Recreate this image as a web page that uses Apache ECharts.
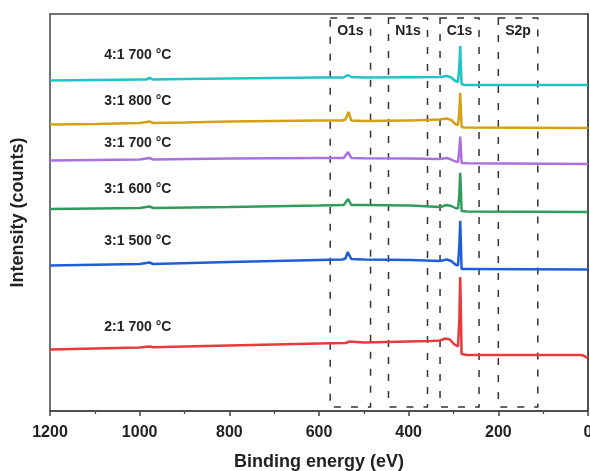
<!DOCTYPE html>
<html>
<head>
<meta charset="utf-8">
<script src="https://cdn.jsdelivr.net/npm/echarts@6/dist/echarts.min.js"></script>
<style>html,body{margin:0;padding:0;background:#fff;}#c{width:590px;height:471px;}</style>
</head>
<body>
<div id="c"></div>
<script>
// Sample names (legend labels drawn beside each trace)
const sampleNames = ['4:1 700 °C', '3:1 800 °C', '3:1 700 °C', '3:1 600 °C', '3:1 500 °C', '2:1 700 °C'];
const sampleColors = ['#22c3c6', '#d4a116', '#aa72e0', '#2f9c5e', '#1f5ed6', '#e63b3d'];
// Label anchor (binding energy, intensity) for each sample name
const labelAnchors = [[1004, 356], [1004, 309.5], [1004, 268], [1004, 222], [1004, 170], [1004, 84]];

// Spectra: [binding energy (eV), intensity (a.u., offset-stacked)]
const s41_700 = [[1200,330.5],[1100,331],[1000,331.5],[985,331.5],[978,333],[970,331.5],[900,332],[800,332.5],[700,333],[600,333.5],[545,333.5],[536,336],[532,337.5],[528,334],[500,333.5],[402,333.7],[399,334.5],[396,333.7],[330,334],[315,335],[305,333.5],[296,330],[290,329],[287,345],[285,365],[284,350],[282,327],[275,326],[150,326],[0,326]];
const s31_800 = [[1200,286.5],[1100,287],[1000,288],[978,289.5],[970,288],[900,288.5],[800,289.5],[700,290],[600,290.5],[548,290.5],[541,291.5],[537,290.5],[534,299],[531,300.5],[528,290.5],[500,290],[402,290.5],[399,291.5],[396,290.5],[330,291.5],[315,292.5],[305,291],[296,287],[290,286],[287,300],[285,318],[284,306],[282,284],[275,283.5],[0,283]];
const s31_700 = [[1200,250.5],[1000,251.5],[978,253],[970,251.5],[800,252.5],[600,253],[545,253],[535,259],[532,261],[528,253],[500,252.7],[402,252.5],[399,253.3],[396,252.5],[330,252],[315,253],[305,251.5],[296,249.5],[290,249],[287,261],[285,274.5],[284,266],[282,248],[270,247.7],[0,247]];
const s31_600 = [[1200,202],[1000,203],[978,204.5],[970,203],[800,204],[600,205.5],[545,206],[535,212],[532,213.7],[528,206],[500,206],[402,205.5],[399,206.5],[396,205.5],[330,204],[315,206],[305,205],[296,203],[290,202.5],[287,216],[285,238.3],[284,226],[282,200],[270,199.5],[0,199]];
const s31_500 = [[1200,145.5],[1000,147],[978,148.5],[970,147],[800,149],[600,151],[548,151.5],[541,152.5],[536,159],[532,160.5],[528,152],[500,151.5],[402,151],[399,152],[396,151],[330,150],[315,151.5],[305,150],[296,146.5],[290,145.5],[287,166],[285,190.3],[284,176],[282,142],[270,142],[0,141.5]];
const s21_700 = [[1200,61.5],[1000,63.5],[978,64.5],[970,63.8],[900,64.5],[800,65.5],[700,66.5],[600,67.5],[540,68],[532,69.5],[528,68],[500,68.5],[400,69.5],[350,70],[330,70.5],[318,72.5],[308,71.5],[298,66.5],[290,64.5],[287,91],[285,134],[284,111],[282,57],[270,56],[100,56],[15,56],[8,55],[3,53.5],[0,53]];
const spectra = [s41_700, s31_800, s31_700, s31_600, s31_500, s21_700];

// Core-level regions [name, high BE, low BE]
const regionNames = ['O1s', 'N1s', 'C1s', 'S2p'];
const regionHigh = [575, 445, 330, 200];
const regionLow = [485, 358, 243, 112];
const regionTop = 393, regionBottom = 4;

// X axis ticks
const xMin = 0, xMax = 1200, xInterval = 200;

const FONT = 'Liberation Sans, Arial, Helvetica, sans-serif';
const chart = echarts.init(document.getElementById('c'), null, {renderer: 'canvas'});

const series = spectra.map((d, i) => ({
  type: 'line',
  name: sampleNames[i],
  data: d,
  showSymbol: false,
  symbol: 'none',
  smooth: false,
  lineStyle: {color: sampleColors[i], width: 2.5},
  itemStyle: {color: sampleColors[i]},
  z: 3,
  markPoint: {
    symbol: 'circle', symbolSize: 0, silent: true,
    label: {show: true, position: 'inside', formatter: '{b}', color: '#222', fontWeight: 'bold', fontSize: 14, fontFamily: FONT},
    data: [{name: sampleNames[i], coord: labelAnchors[i]}]
  }
}));

series.push({
  type: 'line',
  data: [],
  silent: true,
  markArea: {
    silent: true,
    itemStyle: {color: 'rgba(0,0,0,0)', borderColor: '#333', borderWidth: 1.5, borderType: [7, 10]},
    label: {show: true, position: 'insideTop', distance: 7, color: '#222', fontWeight: 'bold', fontSize: 14, fontFamily: FONT},
    data: regionNames.map((n, i) => [
      {name: n, coord: [regionHigh[i], regionTop]},
      {coord: [regionLow[i], regionBottom]}
    ])
  }
});

chart.setOption({
  animation: false,
  backgroundColor: '#fff',
  grid: {left: 50, right: 2, top: 14, bottom: 60, containLabel: false, outerBoundsMode: 'none',
         show: true, borderColor: '#444', borderWidth: 1.5, backgroundColor: 'rgba(0,0,0,0)'},
  xAxis: {
    type: 'value', inverse: true, min: xMin, max: xMax, interval: xInterval,
    name: 'Binding energy (eV)', nameLocation: 'middle', nameGap: 42,
    nameTextStyle: {fontSize: 18, fontWeight: 'bold', color: '#222', fontFamily: FONT},
    axisLine: {show: true, lineStyle: {color: '#444', width: 1.5}},
    axisTick: {show: true, inside: false, length: 5, lineStyle: {color: '#444', width: 1.5}},
    minorTick: {show: true, splitNumber: 2, length: 3, lineStyle: {color: '#444', width: 1.2}},
    axisLabel: {fontSize: 16, fontWeight: 'bold', color: '#222', margin: 14, fontFamily: FONT,
                formatter: v => String(v)},
    splitLine: {show: false}
  },
  yAxis: {
    type: 'value', min: 0, max: 397,
    name: 'Intensity (counts)', nameLocation: 'middle', nameGap: 23, nameRotate: 90,
    nameTextStyle: {fontSize: 18, fontWeight: 'bold', color: '#222', fontFamily: FONT},
    axisLine: {show: true, lineStyle: {color: '#444', width: 1.5}},
    axisTick: {show: false}, axisLabel: {show: false}, splitLine: {show: false}
  },
  series: series
});
</script>
</body>
</html>
